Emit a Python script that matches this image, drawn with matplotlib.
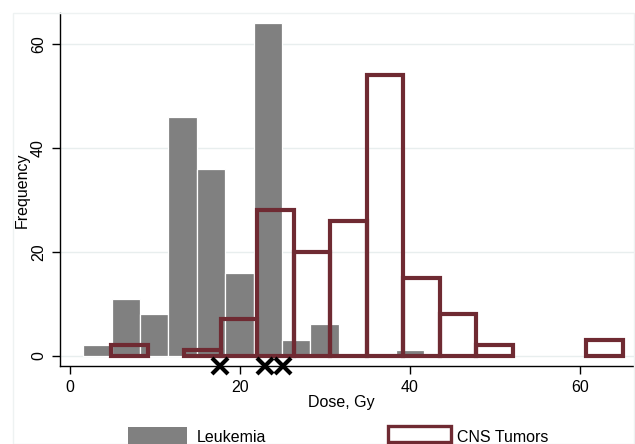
import matplotlib
matplotlib.use("Agg")
import matplotlib.pyplot as plt
from matplotlib.patches import Rectangle
import numpy as np

plt.rcParams['font.family'] = ['Liberation Sans', 'DejaVu Sans']

# Leukemia histogram (12 bins)
leuk_start = 1.56
leuk_width = 3.34
leuk_counts = [2, 11, 8, 46, 36, 16, 64, 3, 6, 0, 0, 1]

# CNS tumors histogram (14 bins)
cns_start = 4.82
cns_width = 4.30
cns_counts = [2, 0, 1, 7, 28, 20, 26, 54, 15, 8, 2, 0, 0, 3]

# Reference dose markers
marker_doses = [17.6, 22.9, 25.1]
marker_y = [-2, -2, -2]

xticks = [0, 20, 40, 60]
yticks = [0, 20, 40, 60]

W, H = 635, 444
fig = plt.figure(figsize=(W / 100, H / 100), dpi=100)
fig.patch.set_facecolor('white')

# faint outer frame
fig.patches.append(Rectangle((13 / W, 0), (634 - 13) / W, (H - 13) / H,
                             transform=fig.transFigure, fill=False,
                             edgecolor='#eef2f2', linewidth=1.0))

ax = fig.add_axes([60 / W, (H - 366) / H, (634 - 60) / W, (366 - 13) / H])
ax.set_xlim(-1.18, 66.35)
ax.set_ylim(-2, 66)

for y in yticks:
    ax.axhline(y, color='#e8eeee', linewidth=1.0, zorder=0)

gray = '#808080'
red = '#6f2a32'

lx = [leuk_start + i * leuk_width for i in range(len(leuk_counts))]
lx_nz = [x for x, c in zip(lx, leuk_counts) if c > 0]
lc_nz = [c for c in leuk_counts if c > 0]
ax.bar(lx_nz, lc_nz, width=leuk_width, align='edge', color=gray,
       edgecolor='white', linewidth=0.9, zorder=2)

cx = [cns_start + i * cns_width for i in range(len(cns_counts))]
cx_nz = [x for x, c in zip(cx, cns_counts) if c > 0]
cc_nz = [c for c in cns_counts if c > 0]
ax.bar(cx_nz, cc_nz, width=cns_width, align='edge', fill=False,
       edgecolor=red, linewidth=3.0, zorder=3)

ax.plot(marker_doses, marker_y, linestyle='none', marker='x', color='black',
        markersize=11.5, markeredgewidth=3.0, clip_on=False, zorder=5)

ax.spines['top'].set_visible(False)
ax.spines['right'].set_visible(False)
ax.spines['left'].set_linewidth(1.0)
ax.spines['bottom'].set_linewidth(1.0)

ax.set_xticks(xticks)
ax.set_yticks(yticks)
ax.set_xticklabels([str(t) for t in xticks], fontsize=11.5)
ax.set_yticklabels([str(t) for t in yticks], fontsize=11.5, rotation=90,
                   va='center')
ax.tick_params(axis='both', direction='out', length=6, width=1.0, pad=4)

fig.text(341 / W, 1 - 402 / H, 'Dose, Gy', ha='center', va='center',
         fontsize=11.5)
fig.text(22 / W, 1 - 190 / H, 'Frequency', ha='center', va='center',
         rotation=90, fontsize=11.5)

# legend (manually placed, partially below figure edge as in reference)
fig.patches.append(Rectangle((128 / W, 1 - 444 / H), (187 - 128) / W, (444 - 427) / H,
                             transform=fig.transFigure, facecolor=gray,
                             edgecolor='none'))
fig.text(197 / W, 1 - 437 / H, 'Leukemia', ha='left', va='center', fontsize=11.5)
fig.patches.append(Rectangle((388 / W, 1 - 442 / H), (451 - 388) / W, (442 - 426) / H,
                             transform=fig.transFigure, fill=False,
                             edgecolor=red, linewidth=2.4))
fig.text(457 / W, 1 - 437 / H, 'CNS Tumors', ha='left', va='center', fontsize=11.5)

fig.savefig('out.png', dpi=100)
